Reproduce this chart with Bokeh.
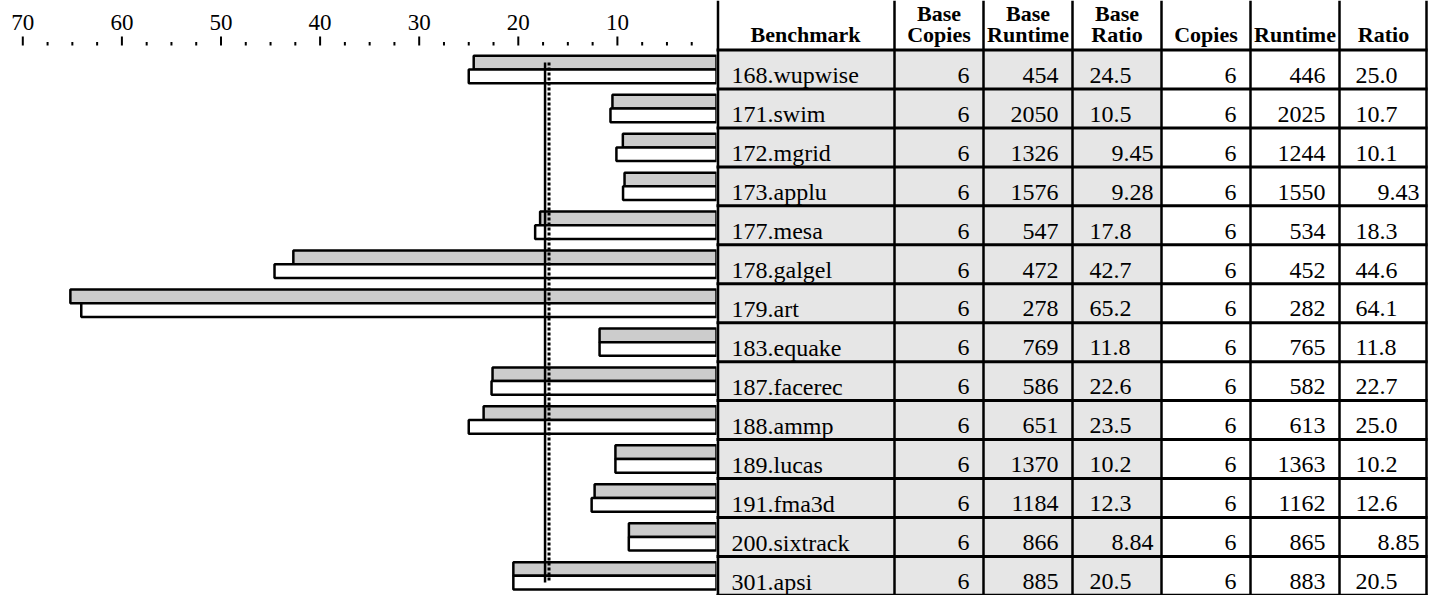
from bokeh.plotting import figure
from bokeh.models import Range1d, ColumnDataSource
from bokeh.transform import dodge
from bokeh.core.properties import value
from bokeh.embed import file_html
from bokeh.resources import INLINE

# ---------------- data ----------------
benchmarks = ["168.wupwise", "171.swim", "172.mgrid", "173.applu", "177.mesa",
              "178.galgel", "179.art", "183.equake", "187.facerec", "188.ammp",
              "189.lucas", "191.fma3d", "200.sixtrack", "301.apsi"]
base_copies = [6, 6, 6, 6, 6, 6, 6, 6, 6, 6, 6, 6, 6, 6]
base_runtime = [454, 2050, 1326, 1576, 547, 472, 278, 769, 586, 651, 1370, 1184, 866, 885]
base_ratio = [24.5, 10.5, 9.45, 9.28, 17.8, 42.7, 65.2, 11.8, 22.6, 23.5, 10.2, 12.3, 8.84, 20.5]
peak_copies = [6, 6, 6, 6, 6, 6, 6, 6, 6, 6, 6, 6, 6, 6]
peak_runtime = [446, 2025, 1244, 1550, 534, 452, 282, 765, 582, 613, 1363, 1162, 865, 883]
peak_ratio = [25.0, 10.7, 10.1, 9.43, 18.3, 44.6, 64.1, 11.8, 22.7, 25.0, 10.2, 12.6, 8.85, 20.5]
geomean_base = 16.9
geomean_peak = 17.3
tick_values = [10, 20, 30, 40, 50, 60, 70]
tick_labels = ["10", "20", "30", "40", "50", "60", "70"]
minor_tick_values = [2.5, 5, 7.5, 12.5, 15, 17.5, 22.5, 25, 27.5, 32.5, 35, 37.5,
                     42.5, 45, 47.5, 52.5, 55, 57.5, 62.5, 65, 67.5]
header_line1 = ["", "Base", "Base", "Base", "", "", ""]
header_line2 = ["Benchmark", "Copies", "Runtime", "Ratio", "Copies", "Runtime", "Ratio"]

rows = list(range(len(benchmarks)))

def fmt_ratio(v):
    return "%.1f" % v if v >= 10 else "%.2f" % v

SERIF = value("Liberation Serif")

# ---------------- layout constants (canvas pixels) ----------------
W, H = 1428, 595
ZERO_PX = 716                      # value 0 / table left edge
PX_PER_UNIT = 9.91
ROW0_PX = 69.0
PITCH = 38.95
TXT_SHIFT = 0.33                   # em correction for text baseline placement

def uy(px):
    return (px - ROW0_PX) / PITCH

def base_y(px, fs):
    return uy(px - TXT_SHIFT * fs)

p = figure(width=W, height=H,
           x_range=Range1d(ZERO_PX / PX_PER_UNIT, (ZERO_PX - W) / PX_PER_UNIT),
           y_range=Range1d(uy(H), uy(0)),
           x_axis_location=None, y_axis_location=None,
           output_backend="svg", toolbar_location=None, min_border=0)
p.grid.visible = False
p.outline_line_color = None
p.extra_x_ranges = {"tbl": Range1d(-ZERO_PX, W - ZERO_PX)}

src = ColumnDataSource(dict(
    row=rows, bench=benchmarks,
    base_copies=[str(v) for v in base_copies],
    base_runtime=[str(v) for v in base_runtime],
    base_ratio=base_ratio,
    peak_copies=[str(v) for v in peak_copies],
    peak_runtime=[str(v) for v in peak_runtime],
    peak_ratio=peak_ratio,
))

# ---------------- scale (top) ----------------
p.segment(x0=tick_values, x1=tick_values, y0=[uy(45)] * len(tick_values),
          y1=[uy(36)] * len(tick_values), line_color="black", line_width=2)
p.segment(x0=minor_tick_values, x1=minor_tick_values, y0=[uy(45)] * len(minor_tick_values),
          y1=[uy(41.5)] * len(minor_tick_values), line_color="black", line_width=2)
p.text(x=tick_values, y=[base_y(30, 23)] * len(tick_values), text=tick_labels,
       text_align="center", text_baseline="alphabetic", text_font=SERIF,
       text_font_size="23px", text_color="black")

# ---------------- bars ----------------
HALF = 13.7 / PITCH
p.hbar(y=dodge("row", -HALF / 2), height=HALF, left=0, right="base_ratio", source=src,
       fill_color="#cccccc", line_color="black", line_width=2.5)
p.hbar(y=dodge("row", HALF / 2), height=HALF, left=0, right="peak_ratio", source=src,
       fill_color="white", line_color="black", line_width=2.5)
p.segment(x0=[geomean_peak], x1=[geomean_peak], y0=[-0.18], y1=[rows[-1] + 0.17],
          line_color="black", line_width=2.5)
p.segment(x0=[geomean_base], x1=[geomean_base], y0=[-0.18], y1=[rows[-1] + 0.17],
          line_color="black", line_width=3, line_dash="3 2")

# ---------------- table ----------------
col_edges = [0, 178, 267, 356, 445, 534, 623, 711]
T = "tbl"
p.quad(left=[col_edges[0]], right=[col_edges[4]], top=[-0.5], bottom=[len(rows) - 0.5],
       fill_color="#e6e6e6", line_color=None, x_range_name=T)

hy = [r - 0.5 for r in range(len(rows) + 1)]
p.segment(x0=[0] * len(hy), x1=[col_edges[-1]] * len(hy), y0=hy, y1=hy,
          line_color="black", line_width=3, x_range_name=T)
vx = [1.5] + col_edges[1:-1] + [col_edges[-1] - 1]
p.segment(x0=vx, x1=vx, y0=[uy(0)] * len(vx), y1=[len(rows) + 1] * len(vx),
          line_color="black", line_width=2.5, x_range_name=T)

centers = [(col_edges[i] + col_edges[i + 1]) / 2 for i in range(7)]
p.text(x=centers, y=[base_y(20, 22)] * 7, text=header_line1, text_align="center",
       text_baseline="alphabetic", text_font=SERIF, text_font_size="22px",
       text_font_style="bold", text_color="black", x_range_name=T)
p.text(x=centers, y=[base_y(41.5, 22)] * 7, text=header_line2, text_align="center",
       text_baseline="alphabetic", text_font=SERIF, text_font_size="22px",
       text_font_style="bold", text_color="black", x_range_name=T)

FS_PX = 24
FS = "%dpx" % FS_PX
BASE_OFF = (13.7 - TXT_SHIFT * FS_PX) / PITCH

def put(xpos, col, align):
    p.text(x=xpos, y=dodge("row", BASE_OFF), text=col, source=src, text_align=align,
           text_baseline="alphabetic", text_font=SERIF, text_font_size=FS,
           text_color="black", x_range_name=T)

put(15, "bench", "left")
put(col_edges[2] - 14, "base_copies", "right")
put(col_edges[3] - 14, "base_runtime", "right")
put(col_edges[5] - 14, "peak_copies", "right")
put(col_edges[6] - 14, "peak_runtime", "right")

def ratio_text(vals, left_x, right_x):
    ly, lt, ry, rt = [], [], [], []
    for r, v in zip(rows, vals):
        if v >= 10:
            ly.append(r + BASE_OFF); lt.append(fmt_ratio(v))
        else:
            ry.append(r + BASE_OFF); rt.append(fmt_ratio(v))
    p.text(x=[left_x] * len(ly), y=ly, text=lt, text_align="left",
           text_baseline="alphabetic", text_font=SERIF, text_font_size=FS,
           text_color="black", x_range_name=T)
    p.text(x=[right_x] * len(ry), y=ry, text=rt, text_align="right",
           text_baseline="alphabetic", text_font=SERIF, text_font_size=FS,
           text_color="black", x_range_name=T)

ratio_text(base_ratio, col_edges[3] + 17, col_edges[4] - 8)
ratio_text(peak_ratio, col_edges[6] + 16, col_edges[7] - 8)

open("out.html", "w").write(file_html(p, INLINE, title="SPEC CFP2000 Rate"))
